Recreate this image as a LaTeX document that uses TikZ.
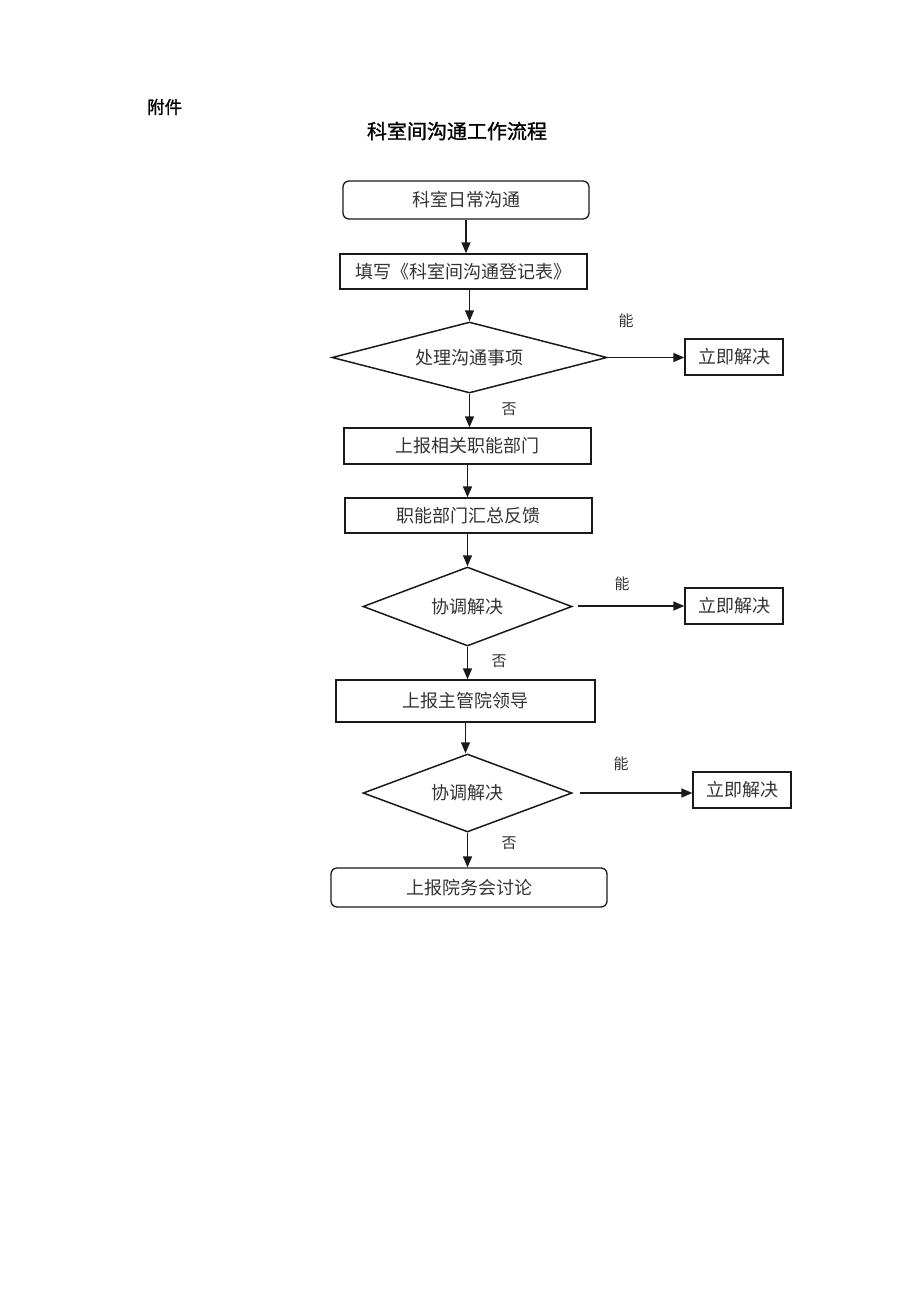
\documentclass[tikz,border=0pt]{standalone}
\usepackage{fontspec}
\setmainfont{Noto Sans CJK SC}
\newfontfamily\cjk{Noto Sans CJK SC}
\newfontfamily\cjkhead[FakeBold=1.2]{Noto Sans CJK SC}
\usetikzlibrary{shapes.geometric,arrows.meta}
\definecolor{txt}{HTML}{333333}
\definecolor{ln}{HTML}{1A1A1A}
\tikzset{
  base/.style={draw=ln,line width=1.3pt,text=txt,inner sep=0pt,font=\cjk\fontsize{18}{20}\selectfont},
  boxrect/.style={base,rectangle},
  boxround/.style={base,rectangle,rounded corners=6pt},
  choice/.style={base,diamond,inner sep=0pt,line width=1.5pt},
  lbl/.style={text=txt,font=\cjk\fontsize{15}{17}\selectfont,inner sep=0pt},
  flow/.style={draw=ln,line width=1.5pt,-{Triangle[length=11pt,width=9pt]}}
}
\begin{document}
\begin{tikzpicture}[x=1pt,y=-1pt]
\useasboundingbox (0,0) rectangle (920,1302);
\node[font=\cjkhead\fontsize{17.5}{19}\selectfont,anchor=west,inner sep=0pt] (fj) at (147,107) {附件};
\node[font=\cjkhead\fontsize{20}{22}\selectfont,inner sep=0pt] (title) at (457,131) {科室间沟通工作流程};

\node[boxround,minimum width=246,minimum height=38] (n1) at (466,200) {科室日常沟通};
\node[boxrect,minimum width=247,minimum height=35] (n2) at (463.5,271.5) {填写《科室间沟通登记表》};
\node[choice,aspect=3.87,minimum width=275,minimum height=71] (d1) at (469.5,357.5) {处理沟通事项};
\node[boxrect,minimum width=98,minimum height=36] (r1) at (734,357) {立即解决};
\node[boxrect,minimum width=247,minimum height=36] (n3) at (467.5,446) {上报相关职能部门};
\node[boxrect,minimum width=247,minimum height=35] (n4) at (468.5,515.5) {职能部门汇总反馈};
\node[choice,aspect=2.65,minimum width=209,minimum height=79] (d2) at (467.5,606.5) {协调解决};
\node[boxrect,minimum width=98,minimum height=36] (r2) at (734,606) {立即解决};
\node[boxrect,minimum width=259,minimum height=42] (n5) at (465.5,701) {上报主管院领导};
\node[choice,aspect=2.68,minimum width=209,minimum height=78] (d3) at (467.5,793) {协调解决};
\node[boxrect,minimum width=98,minimum height=36] (r3) at (742,790) {立即解决};
\node[boxround,minimum width=276,minimum height=39] (n6) at (469,887.5) {上报院务会讨论};

\node[lbl] (y1) at (626,321) {能};
\node[lbl] (no1) at (509,409) {否};
\node[lbl] (y2) at (622,584) {能};
\node[lbl] (no2) at (499,661) {否};
\node[lbl] (y3) at (621,764) {能};
\node[lbl] (no3) at (509,843) {否};

\coordinate (s2) at (578,606);
\coordinate (s3) at (580,793);

\draw[flow] (n1.south) -- (n1.south |- n2.north);
\draw[flow] (n2.south -| d1.north) -- (d1.north);
\draw[flow] (d1.east) -- (d1.east -| r1.west);
\draw[flow] (d1.south) -- (d1.south |- n3.north);
\draw[flow] (n3.south) -- (n3.south |- n4.north);
\draw[flow] (n4.south -| d2.north) -- (d2.north);
\draw[flow] (s2) -- (s2 -| r2.west);
\draw[flow] (d2.south) -- (d2.south |- n5.north);
\draw[flow] (n5.south) -- (n5.south |- d3.north);
\draw[flow] (s3) -- (s3 -| r3.west);
\draw[flow] (d3.south) -- (d3.south |- n6.north);
\end{tikzpicture}
\end{document}
